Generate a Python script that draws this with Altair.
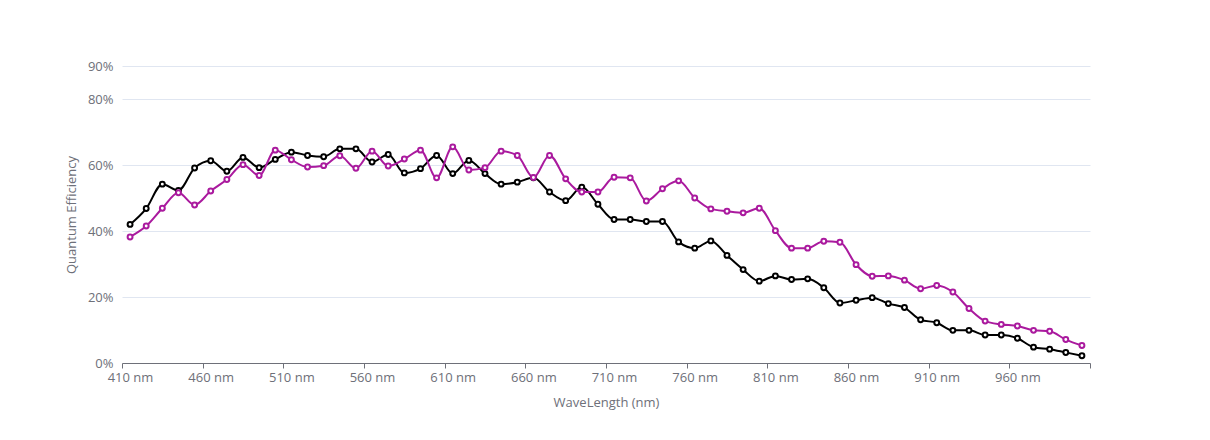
import altair as alt
import pandas as pd

wavelengths = list(range(410, 1001, 10))

series_names = ["Sensor A", "Sensor B"]
series_colors = ["#000000", "#aa1a9e"]

qe_black = [42.0, 46.8, 54.2, 52.3, 59.1, 61.3, 58.1, 62.3, 59.2, 61.7, 63.9, 62.9, 62.5, 64.9, 64.9,
            60.9, 63.2, 57.6, 58.9, 62.9, 57.4, 61.4, 57.4, 54.2, 54.8, 56.1, 51.8, 49.2, 53.3, 48.1,
            43.5, 43.5, 42.9, 42.9, 36.7, 34.8, 37.0, 32.6, 28.3, 24.8, 26.4, 25.3, 25.5, 22.8, 18.2,
            19.0, 19.8, 18.0, 16.8, 13.1, 12.2, 9.9, 9.9, 8.5, 8.5, 7.5, 4.8, 4.2, 3.2, 2.2]

qe_magenta = [38.2, 41.5, 46.9, 51.6, 47.9, 52.1, 55.6, 60.1, 56.8, 64.5, 61.6, 59.4, 59.8, 62.8, 59.0,
              64.2, 59.7, 61.8, 64.5, 56.1, 65.5, 58.5, 59.2, 64.2, 62.9, 56.2, 62.9, 55.8, 51.8, 51.8,
              56.3, 56.1, 49.1, 52.8, 55.2, 50.0, 46.7, 46.0, 45.5, 46.9, 40.1, 34.8, 34.8, 36.9, 36.6,
              29.8, 26.3, 26.4, 25.1, 22.5, 23.5, 21.5, 16.5, 12.7, 11.7, 11.2, 9.9, 9.6, 7.1, 5.3]

y_ticks = [0, 20, 40, 60, 80, 90]
x_ticks = list(range(405, 1006, 50))

rows = []
for name, vals in zip(series_names, [qe_black, qe_magenta]):
    for w, v in zip(wavelengths, vals):
        rows.append({"wl": w, "qe": v, "series": name})
df = pd.DataFrame(rows)

gray = "#6e7079"
font = "Open Sans"
fs = 13

x_enc = alt.X(
    "wl:Q",
    scale=alt.Scale(domain=[405, 1005], nice=False, zero=False),
    axis=alt.Axis(
        title="WaveLength (nm)",
        values=x_ticks,
        labelExpr="datum.value < 1000 ? (datum.value + 5) + ' nm' : ''",
        labelOffset=8,
        grid=False,
        domainColor=gray,
        tickColor=gray,
        tickSize=5,
        labelColor=gray,
        labelFontSize=fs,
        labelFont=font,
        labelPadding=3,
        titleColor=gray,
        titleFontSize=fs,
        titleFont=font,
        titleFontWeight="normal",
        titlePadding=12,
        labelFlush=False,
        labelOverlap=False,
    ),
)
y_enc = alt.Y(
    "qe:Q",
    scale=alt.Scale(domain=[0, 90], nice=False),
    axis=alt.Axis(
        title="Quantum Efficiency",
        values=y_ticks,
        labelExpr="datum.value + '%'",
        domain=False,
        ticks=False,
        grid=True,
        gridColor="#e0e6f1",
        labelColor=gray,
        labelFontSize=fs,
        labelFont=font,
        labelPadding=9,
        titleColor=gray,
        titleFontSize=fs,
        titleFont=font,
        titleFontWeight="normal",
        titlePadding=9,
        labelOverlap=False,
    ),
)
color_enc = alt.Color(
    "series:N",
    scale=alt.Scale(domain=series_names, range=series_colors),
    legend=None,
)

base = alt.Chart(df).encode(x=x_enc, y=y_enc, color=color_enc)

lines = base.mark_line(interpolate="monotone", strokeWidth=2)
points = base.mark_point(shape="circle", filled=False, fill="white", fillOpacity=1,
                         size=24, strokeWidth=2, opacity=1).encode(
    stroke=alt.Stroke("series:N", scale=alt.Scale(domain=series_names, range=series_colors), legend=None)
)

chart = alt.layer(lines, points).properties(
    width=968,
    height=297,
    padding={"left": 122, "top": 66, "right": 120, "bottom": 77},
    autosize=alt.AutoSizeParams(type="none"),
    background="white",
).configure_view(stroke=None)

chart.save("out.html", embed_options={"renderer": "svg", "actions": False})
